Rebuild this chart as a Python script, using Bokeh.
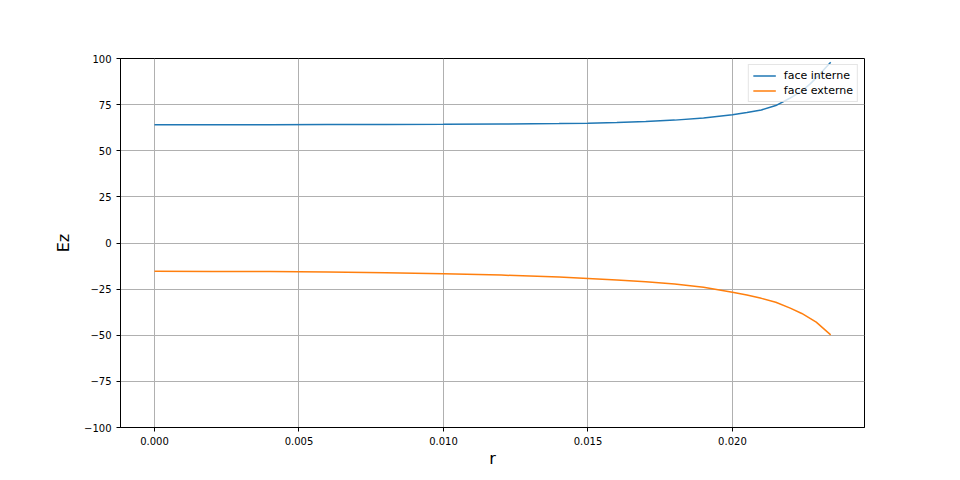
from bokeh.plotting import figure
from bokeh.models import FixedTicker, PrintfTickFormatter, Range1d, Legend, LegendItem
from bokeh.embed import file_html
from bokeh.resources import INLINE

# data
r = [0.0, 0.002, 0.004, 0.006, 0.008, 0.010, 0.012, 0.014, 0.015, 0.016,
     0.017, 0.018, 0.019, 0.020, 0.0205, 0.021, 0.0215, 0.022, 0.0224,
     0.0227, 0.0229, 0.0234]
face_interne = [64.1, 64.1, 64.15, 64.2, 64.25, 64.35, 64.5, 64.75, 64.95, 65.3,
                65.8, 66.6, 67.8, 69.5, 70.7, 72.1, 74.5, 78.6, 82.3,
                86.4, 89.5, 98.0]
face_externe = [-15.3, -15.4, -15.5, -15.7, -16.1, -16.7, -17.4, -18.4, -19.2, -20.0,
                -21.0, -22.2, -24.0, -26.7, -28.2, -30.0, -32.1, -35.3, -38.2,
                -41.0, -42.9, -49.8]
x_ticks = [0.0, 0.005, 0.010, 0.015, 0.020]
y_ticks = [-100, -75, -50, -25, 0, 25, 50, 75, 100]
series_names = ["face interne", "face externe"]

FONT = "DejaVu Sans"

p = figure(width=952, height=472, output_backend="svg", toolbar_location=None,
           x_range=Range1d(-0.001176, 0.02457), y_range=Range1d(-100, 100),
           frame_width=744, frame_height=369,
           min_border_left=120, min_border_right=88, min_border_top=58, min_border_bottom=45)

l1 = p.line(r, face_interne, line_color="#1f77b4", line_width=1.5)
l2 = p.line(r, face_externe, line_color="#ff7f0e", line_width=1.5)

legend = Legend(items=[LegendItem(label=series_names[0], renderers=[l1]),
                       LegendItem(label=series_names[1], renderers=[l2])],
                location="top_right")
legend.label_text_font = FONT
legend.label_text_font_size = "11px"
legend.label_text_color = "black"
legend.glyph_width = 23
legend.glyph_height = 13
legend.label_height = 13
legend.label_standoff = 8
legend.spacing = 2
legend.padding = 4
legend.margin = 6
legend.border_line_color = "#cccccc"
legend.border_line_width = 1
legend.background_fill_alpha = 0.8
p.add_layout(legend)

p.xaxis.ticker = FixedTicker(ticks=x_ticks)
p.xaxis.formatter = PrintfTickFormatter(format="%.3f")
p.yaxis.ticker = FixedTicker(ticks=y_ticks)

for ax in (p.xaxis, p.yaxis):
    ax.major_label_text_font = FONT
    ax.major_label_text_font_size = "10px"
    ax.major_label_text_color = "black"
    ax.axis_label_text_font = FONT
    ax.axis_label_text_font_size = "16px"
    ax.axis_label_text_font_style = "normal"
    ax.axis_label_text_color = "black"
    ax.minor_tick_line_color = None
    ax.major_tick_out = 4
    ax.major_tick_in = 0
    ax.major_tick_line_color = "black"
    ax.axis_line_color = "black"
    ax.axis_line_width = 1

p.xaxis.axis_label = "r"
p.yaxis.axis_label = "Ez"
p.xaxis.axis_label_standoff = 1
p.yaxis.axis_label_standoff = 8

p.xgrid.ticker = FixedTicker(ticks=x_ticks)
p.ygrid.ticker = FixedTicker(ticks=y_ticks)
p.grid.grid_line_color = "#b0b0b0"
p.grid.grid_line_width = 1

p.outline_line_color = "black"
p.outline_line_width = 1
p.outline_line_alpha = 1
p.background_fill_color = "white"
p.border_fill_color = "white"

open("out.html", "w").write(file_html(p, INLINE))
